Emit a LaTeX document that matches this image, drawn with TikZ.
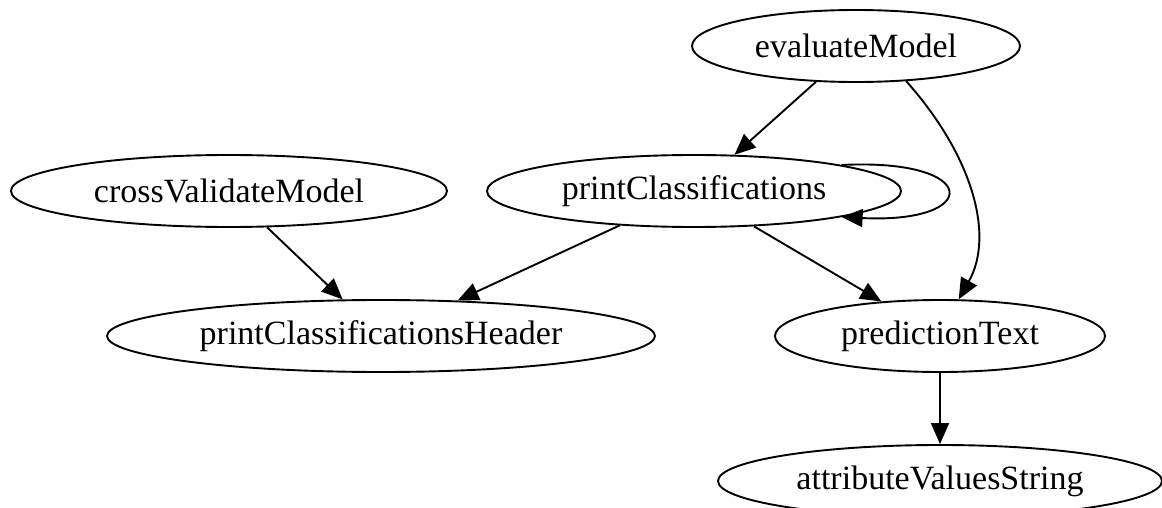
\documentclass[tikz,border=0pt]{standalone}
\usepackage{fontspec}
\setmainfont{Liberation Serif}
\usetikzlibrary{shapes.geometric,arrows.meta}

\tikzset{
  fn/.style={ellipse, draw, line width=1.9pt, inner sep=0pt,
             font=\fontsize{34}{40}\selectfont, minimum height=72pt},
  call/.style={line width=1.9pt, -{Triangle[length=21pt,width=18pt]}},
}

\begin{document}
\begin{tikzpicture}[x=1pt, y=-1pt]
  \useasboundingbox (0,0) rectangle (1162,508);
  \clip (0,0) rectangle (1162,508);

  % functions of the call graph
  \node[fn, minimum width=328pt] (eval)  at (856,46)  {evaluateModel};
  \node[fn, minimum width=414pt] (pc)    at (694,191) {printClassifications};
  \node[fn, minimum width=436pt] (cv)    at (229,191) {crossValidateModel};
  \node[fn, minimum width=548pt] (hdr)   at (381,336) {printClassificationsHeader};
  \node[fn, minimum width=330pt] (pred)  at (940,336) {predictionText};
  \node[fn, minimum width=444pt] (avs)   at (940,481) {attributeValuesString};

  % calls
  \draw[call] (eval) -- (pc);
  \draw[call] (eval.-35) .. controls (972,155) and (995,235) .. (pred.63);
  \draw[call] (pc.10) .. controls (982,158) and (982,224) .. (pc.-10);
  \draw[call] (pc) -- (hdr);
  \draw[call] (pc) -- (pred);
  \draw[call] (cv) -- (hdr);
  \draw[call] (pred) -- (avs);
\end{tikzpicture}
\end{document}
